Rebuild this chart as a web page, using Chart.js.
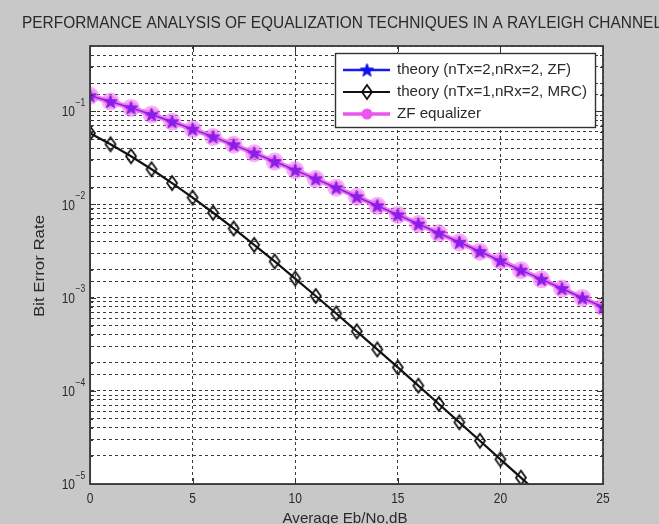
<!DOCTYPE html>
<html><head><meta charset="utf-8">
<script src="https://cdn.jsdelivr.net/npm/chart.js@4.4.1/dist/chart.umd.min.js"></script>
<style>html,body{margin:0;padding:0;background:#c8c8c8;overflow:hidden}#wrap{width:659px;height:524px}</style>
</head><body><div id="wrap"><canvas id="c" width="659" height="524"></canvas></div>
<script>
const snrDb = [0,1,2,3,4,5,6,7,8,9,10,11,12,13,14,15,16,17,18,19,20,21,22,23,24,25];
const berTheoryZF = [0.1464,0.1267,0.1085,0.0919,0.0771,0.0642,0.0530,0.0435,0.0355,0.0288,0.0233,0.01875,0.01507,0.01208,0.00967,0.00772,0.00616,0.00491,0.00392,0.00312,0.00248,0.00197,0.00157,0.00125,0.00099,0.00079];
const berTheoryMRC = [0.0581,0.0441,0.0328,0.0238,0.0169,0.01183,0.00813,0.00551,0.00368,0.00244,0.00160,0.00104,0.000675,0.000434,0.000278,0.000178,0.0001135,0.0000722,0.0000459,0.0000291,0.0000184,0.0000117,0.0000074,0.0000047,0.0000030,0.0000019];
const berSimZF = [0.1460,0.1270,0.1083,0.0921,0.0770,0.0643,0.0529,0.0436,0.0354,0.0288,0.0233,0.0187,0.0151,0.0121,0.00965,0.00773,0.00617,0.00490,0.00392,0.00311,0.00249,0.00197,0.00157,0.00125,0.00099,0.00079];
const xTickLabels = ['0','5','10','15','20','25'];
const yTickExps = [-5,-4,-3,-2,-1];
const titleText = 'PERFORMANCE ANALYSIS OF EQUALIZATION TECHNIQUES IN A RAYLEIGH CHANNEL';
const xLabelText = 'Average Eb/No,dB';
const yLabelText = 'Bit Error Rate';
const legendLabels = ['theory (nTx=2,nRx=2, ZF)','theory (nTx=1,nRx=2, MRC)','ZF equalizer'];

const FONT = '"Liberation Sans", Arial, Helvetica, sans-serif';
const TXT = '#2a2a2a';

function starCanvas(color, r){
  const s = Math.ceil(2*r+3); const c = document.createElement('canvas'); c.width = s; c.height = s;
  const g = c.getContext('2d'); g.translate(s/2, s/2+0.5); g.beginPath();
  for (let i=0;i<10;i++){ const rr = i%2 ? r*0.42 : r; const a = -Math.PI/2 + i*Math.PI/5; g.lineTo(rr*Math.cos(a), rr*Math.sin(a)); }
  g.closePath(); g.fillStyle = color; g.fill(); g.strokeStyle = color; g.lineWidth = 1; g.stroke();
  return c;
}
function diamondCanvas(color, w, h){
  const c = document.createElement('canvas'); c.width = w+4; c.height = h+4;
  const g = c.getContext('2d'); const cx=(w+4)/2, cy=(h+4)/2;
  g.beginPath(); g.moveTo(cx, cy-h/2); g.lineTo(cx+w/2, cy); g.lineTo(cx, cy+h/2); g.lineTo(cx-w/2, cy); g.closePath();
  g.strokeStyle = color; g.lineWidth = 1.8; g.stroke();
  return c;
}
const purpleStar = starCanvas('#8a1ee6', 7);
const blueStar = starCanvas('#1010ee', 7);
const blackDiamond = diamondCanvas('#111', 10, 14);

function drawText(ctx, text, x, y, size, sx, align){
  ctx.save(); ctx.font = size + 'px ' + FONT; ctx.fillStyle = TXT;
  ctx.translate(x, y); ctx.scale(sx, 1); ctx.textAlign = align || 'left'; ctx.textBaseline = 'middle';
  ctx.fillText(text, 0, 0); ctx.restore();
}
function fitScale(ctx, text, size, width){ ctx.save(); ctx.font = size + 'px ' + FONT; const w = ctx.measureText(text).width; ctx.restore(); return width / w; }

const decor = {
  id: 'decor',
  beforeDraw(chart){
    const {ctx, chartArea: a} = chart;
    ctx.save(); ctx.fillStyle = '#c8c8c8'; ctx.fillRect(0,0,chart.width,chart.height);
    ctx.fillStyle = '#ffffff'; ctx.fillRect(a.left, a.top, a.right-a.left, a.bottom-a.top); ctx.restore();
  },
  afterDraw(chart){
    const {ctx, chartArea: a} = chart;
    const xs = chart.scales.x, ys = chart.scales.y;
    ctx.save();
    ctx.strokeStyle = '#333'; ctx.lineWidth = 1;
    ys.ticks.forEach(t => {
      const y = Math.round(ys.getPixelForValue(t.value)) + 0.5;
      const major = Math.abs(Math.log10(t.value) - Math.round(Math.log10(t.value))) < 1e-9;
      const L = major ? 6 : 3;
      ctx.beginPath(); ctx.moveTo(a.left, y); ctx.lineTo(a.left+L, y); ctx.moveTo(a.right, y); ctx.lineTo(a.right-L, y); ctx.stroke();
    });
    xs.ticks.forEach(t => {
      const x = Math.round(xs.getPixelForValue(t.value)) + 0.5;
      ctx.beginPath(); ctx.moveTo(x, a.bottom); ctx.lineTo(x, a.bottom-6); ctx.moveTo(x, a.top); ctx.lineTo(x, a.top+6); ctx.stroke();
    });
    ctx.strokeStyle = '#3a3a3a'; ctx.lineWidth = 1.8;
    ctx.strokeRect(a.left, a.top, a.right-a.left, a.bottom-a.top);
    xs.ticks.forEach((t, i) => {
      const x = xs.getPixelForValue(t.value);
      drawText(ctx, xTickLabels[i] !== undefined ? xTickLabels[i] : String(t.value), x, 499, 15, 0.8, 'center');
    });
    yTickExps.forEach(e => {
      const y = ys.getPixelForValue(Math.pow(10, e));
      drawText(ctx, '10', 75, y+1, 15, 0.8, 'right');
      drawText(ctx, String(e).replace('-', '\u2212'), 75.5, y-8, 10, 0.85, 'left');
    });
    drawText(ctx, titleText, 22, 24, 16, fitScale(ctx, titleText, 16, 640), 'left');
    drawText(ctx, xLabelText, 345, 519, 15, fitScale(ctx, xLabelText, 15, 125), 'center');
    ctx.save(); ctx.translate(40, 266); ctx.rotate(-Math.PI/2);
    drawText(ctx, yLabelText, 0, 0, 15, fitScale(ctx, yLabelText, 15, 102), 'center');
    ctx.restore();
    const bx = 335, by = 53, bw = 260, bh = 74;
    ctx.fillStyle = '#fff'; ctx.fillRect(bx, by, bw, bh);
    ctx.strokeStyle = '#333'; ctx.lineWidth = 1.4; ctx.strokeRect(bx+0.5, by+0.5, bw, bh);
    const rows = [70, 92, 114];
    const lsx = fitScale(ctx, legendLabels[1], 15, 190);
    const styles = [
      {color:'#1a1aee', w:2.5, mark:'star'},
      {color:'#111', w:2, mark:'diamond'},
      {color:'#ee55ee', w:3.5, mark:'circle'}
    ];
    rows.forEach((ry, i) => {
      const s = styles[i];
      ctx.strokeStyle = s.color; ctx.lineWidth = s.w; ctx.beginPath(); ctx.moveTo(343, ry); ctx.lineTo(390, ry); ctx.stroke();
      if (s.mark === 'star') ctx.drawImage(blueStar, 367 - blueStar.width/2, ry - blueStar.height/2);
      else if (s.mark === 'diamond') ctx.drawImage(blackDiamond, 367 - blackDiamond.width/2, ry - blackDiamond.height/2);
      else { ctx.fillStyle = '#ee55ee'; ctx.beginPath(); ctx.arc(367, ry, 5.5, 0, Math.PI*2); ctx.fill(); }
      drawText(ctx, legendLabels[i], 397, ry, 15, lsx, 'left');
    });
    ctx.restore();
  }
};

const gridStyle = { color: '#3c3c3c', lineWidth: 1, drawTicks: false };

new Chart(document.getElementById('c'), {
  type: 'line',
  data: {
    labels: snrDb,
    datasets: [
      { label: legendLabels[0], data: snrDb.map((x,i)=>({x, y: berTheoryZF[i]})), borderColor: '#8a1ee6', borderWidth: 1.5,
        pointStyle: purpleStar, pointRadius: 7, order: 1 },
      { label: legendLabels[1], data: snrDb.map((x,i)=>({x, y: berTheoryMRC[i]})), borderColor: '#111', borderWidth: 2.2,
        pointStyle: blackDiamond, pointRadius: 7, order: 2 },
      { label: legendLabels[2], data: snrDb.map((x,i)=>({x, y: berSimZF[i]})), borderColor: '#f07af0', borderWidth: 5,
        pointStyle: 'circle', pointRadius: 6.5, pointBackgroundColor: 'rgba(240,110,240,0.55)', pointBorderColor: 'rgba(240,110,240,0.55)', order: 3 }
    ]
  },
  options: {
    responsive: false, animation: false, devicePixelRatio: 1,
    layout: { padding: { left: 0, right: 56, top: 46, bottom: 0 } },
    elements: { line: { tension: 0, fill: false } },
    plugins: { legend: { display: false }, title: { display: false }, tooltip: { enabled: false } },
    scales: {
      x: { type: 'linear', min: 0, max: 25,
        ticks: { stepSize: 5, display: false },
        grid: { ...gridStyle }, border: { display: true, color: '#3a3a3a', dash: [3,3] },
        afterFit(s){ s.height = 40; } },
      y: { type: 'logarithmic', min: 1e-5, max: 0.5,
        ticks: { display: false, autoSkip: false },
        grid: { ...gridStyle }, border: { display: true, color: '#3a3a3a', dash: [3,3] },
        afterFit(s){ s.width = 90; } }
    }
  },
  plugins: [decor]
});
</script>
</body></html>
